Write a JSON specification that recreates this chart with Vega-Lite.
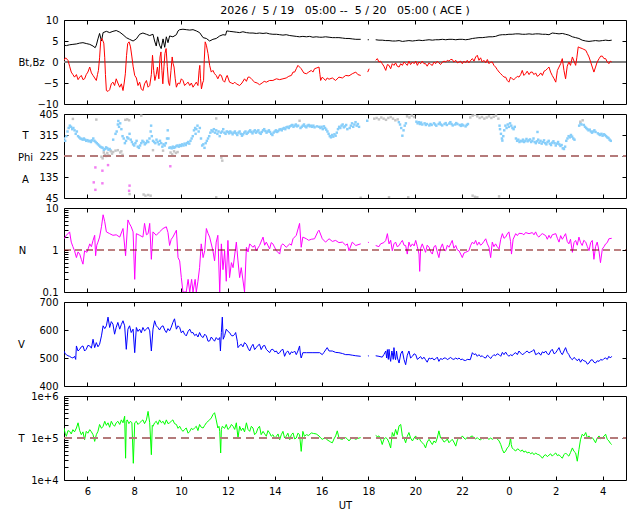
{
  "$schema": "https://vega.github.io/schema/vega-lite/v6.json",
  "padding": {"left": 16, "top": 4, "right": 13, "bottom": 5},
  "background": "white",
  "config": {
    "view": {"stroke": "black", "strokeWidth": 1},
    "font": "DejaVu Sans",
    "axis": {"domain": false, "grid": false, "tickColor": "black", "tickSize": -4, "tickWidth": 1, "labelFont": "DejaVu Sans", "labelFontSize": 10, "labelColor": "black", "labelPadding": 10, "titleFont": "DejaVu Sans", "titleFontSize": 10, "titleFontWeight": "normal", "titleColor": "black"},
    "axisY": {"titleAngle": 0, "titleAlign": "center", "titleBaseline": "middle", "titleY": 42},
    "title": {"font": "DejaVu Sans", "fontSize": 11, "fontWeight": "normal", "color": "black"}
  },
  "datasets": {
    "bt": [
      {"t":5.00,"v":4.0},{"t":5.10,"v":3.9},{"t":5.24,"v":4.1},{"t":5.38,"v":4.2},{"t":5.53,"v":4.3},{"t":5.67,"v":4.5},{"t":5.81,"v":4.6},{"t":5.95,"v":4.4},{"t":6.10,"v":4.2},{"t":6.24,"v":3.8},{"t":6.33,"v":3.4},{"t":6.38,"v":4.0},{"t":6.45,"v":5.5},{"t":6.52,"v":6.8},{"t":6.60,"v":5.0},{"t":6.67,"v":7.0},{"t":6.81,"v":7.3},{"t":6.95,"v":7.0},{"t":7.09,"v":7.3},{"t":7.23,"v":7.5},{"t":7.38,"v":7.1},{"t":7.52,"v":6.5},{"t":7.66,"v":5.8},{"t":7.80,"v":5.4},{"t":7.95,"v":5.0},{"t":8.09,"v":5.5},{"t":8.23,"v":6.6},{"t":8.37,"v":6.9},{"t":8.52,"v":6.6},{"t":8.66,"v":6.3},{"t":8.80,"v":6.6},{"t":8.87,"v":5.0},{"t":8.94,"v":3.8},{"t":9.00,"v":6.0},{"t":9.08,"v":4.0},{"t":9.15,"v":3.2},{"t":9.23,"v":5.5},{"t":9.30,"v":3.5},{"t":9.37,"v":6.0},{"t":9.44,"v":4.6},{"t":9.51,"v":6.2},{"t":9.65,"v":6.0},{"t":9.80,"v":6.5},{"t":9.87,"v":7.4},{"t":9.94,"v":7.7},{"t":10.08,"v":7.8},{"t":10.22,"v":7.7},{"t":10.37,"v":7.6},{"t":10.51,"v":7.7},{"t":10.65,"v":7.4},{"t":10.79,"v":7.0},{"t":10.94,"v":5.8},{"t":11.08,"v":5.6},{"t":11.22,"v":5.0},{"t":11.36,"v":5.4},{"t":11.50,"v":5.6},{"t":11.65,"v":6.2},{"t":11.79,"v":6.5},{"t":11.90,"v":6.4},{"t":11.95,"v":7.4},{"t":12.07,"v":7.3},{"t":12.22,"v":7.2},{"t":12.36,"v":7.1},{"t":12.50,"v":7.0},{"t":12.64,"v":7.2},{"t":12.79,"v":7.0},{"t":12.93,"v":6.9},{"t":13.07,"v":6.9},{"t":13.21,"v":6.8},{"t":13.35,"v":6.9},{"t":13.50,"v":6.8},{"t":13.64,"v":6.9},{"t":13.78,"v":6.7},{"t":13.92,"v":6.6},{"t":14.07,"v":6.6},{"t":14.21,"v":6.5},{"t":14.35,"v":6.4},{"t":14.49,"v":6.5},{"t":14.64,"v":6.3},{"t":14.78,"v":6.2},{"t":14.92,"v":6.1},{"t":15.06,"v":6.0},{"t":15.20,"v":6.1},{"t":15.35,"v":6.0},{"t":15.49,"v":6.1},{"t":15.63,"v":5.9},{"t":15.77,"v":6.0},{"t":15.92,"v":5.9},{"t":16.03,"v":5.9},{"t":16.17,"v":6.0},{"t":16.32,"v":5.9},{"t":16.46,"v":5.8},{"t":16.60,"v":5.8},{"t":16.74,"v":5.8},{"t":16.89,"v":5.7},{"t":17.03,"v":5.6},{"t":17.17,"v":5.6},{"t":17.31,"v":5.5},{"t":17.46,"v":5.4},{"t":17.67,"v":5.4},{"t":17.8,"v":null},{"t":17.97,"v":5.3},{"t":18.02,"v":5.3},{"t":18.15,"v":null},{"t":18.31,"v":5.3},{"t":18.45,"v":5.2},{"t":18.59,"v":5.2},{"t":18.74,"v":5.1},{"t":18.88,"v":5.1},{"t":19.02,"v":5.0},{"t":19.16,"v":5.0},{"t":19.31,"v":5.1},{"t":19.45,"v":4.9},{"t":19.59,"v":5.0},{"t":19.73,"v":5.1},{"t":19.88,"v":5.0},{"t":20.02,"v":5.1},{"t":20.16,"v":5.2},{"t":20.30,"v":5.1},{"t":20.44,"v":5.2},{"t":20.59,"v":5.3},{"t":20.73,"v":5.2},{"t":20.87,"v":5.3},{"t":21.01,"v":5.3},{"t":21.16,"v":5.4},{"t":21.30,"v":5.3},{"t":21.44,"v":5.4},{"t":21.58,"v":5.4},{"t":21.73,"v":5.3},{"t":21.87,"v":5.4},{"t":22.01,"v":5.4},{"t":22.15,"v":5.3},{"t":22.29,"v":5.4},{"t":22.44,"v":5.6},{"t":22.58,"v":5.7},{"t":22.72,"v":5.8},{"t":22.86,"v":5.8},{"t":23.01,"v":5.9},{"t":23.15,"v":6.0},{"t":23.29,"v":6.0},{"t":23.43,"v":6.1},{"t":23.58,"v":6.4},{"t":23.72,"v":6.5},{"t":23.86,"v":6.5},{"t":24.00,"v":6.6},{"t":24.14,"v":6.6},{"t":24.29,"v":6.7},{"t":24.43,"v":6.7},{"t":24.57,"v":6.6},{"t":24.71,"v":6.6},{"t":24.86,"v":6.7},{"t":25.00,"v":6.6},{"t":25.14,"v":6.7},{"t":25.28,"v":6.7},{"t":25.43,"v":6.6},{"t":25.57,"v":6.6},{"t":25.71,"v":6.5},{"t":25.85,"v":6.9},{"t":26.00,"v":6.8},{"t":26.14,"v":6.7},{"t":26.28,"v":6.8},{"t":26.42,"v":6.6},{"t":26.56,"v":6.4},{"t":26.71,"v":6.0},{"t":26.85,"v":5.8},{"t":26.99,"v":5.6},{"t":27.13,"v":5.2},{"t":27.28,"v":5.0},{"t":27.42,"v":4.9},{"t":27.56,"v":5.0},{"t":27.70,"v":5.1},{"t":27.85,"v":5.0},{"t":27.99,"v":5.1},{"t":28.13,"v":5.2},{"t":28.27,"v":5.1},{"t":28.39,"v":5.2}
    ],
    "bz": [
      {"t":5.00,"v":0.4},{"t":5.07,"v":1.0},{"t":5.17,"v":0.4},{"t":5.24,"v":-1.0},{"t":5.31,"v":-2.4},{"t":5.38,"v":-3.0},{"t":5.45,"v":-3.6},{"t":5.53,"v":-3.0},{"t":5.60,"v":-4.2},{"t":5.67,"v":-3.6},{"t":5.74,"v":-3.2},{"t":5.81,"v":-4.2},{"t":5.88,"v":-4.0},{"t":5.95,"v":-3.0},{"t":6.02,"v":-2.4},{"t":6.10,"v":-1.2},{"t":6.17,"v":-2.6},{"t":6.24,"v":-3.2},{"t":6.31,"v":-3.8},{"t":6.38,"v":-4.4},{"t":6.43,"v":-3.0},{"t":6.47,"v":-2.0},{"t":6.52,"v":1.0},{"t":6.57,"v":5.2},{"t":6.62,"v":5.6},{"t":6.70,"v":4.5},{"t":6.74,"v":1.0},{"t":6.77,"v":-3.0},{"t":6.81,"v":-6.8},{"t":6.88,"v":-7.0},{"t":6.95,"v":-6.6},{"t":7.02,"v":-5.2},{"t":7.09,"v":-4.8},{"t":7.16,"v":-5.6},{"t":7.23,"v":-4.0},{"t":7.30,"v":-5.0},{"t":7.38,"v":-6.0},{"t":7.45,"v":-5.2},{"t":7.52,"v":-6.8},{"t":7.57,"v":-5.0},{"t":7.62,"v":-2.8},{"t":7.67,"v":1.5},{"t":7.72,"v":4.4},{"t":7.78,"v":4.8},{"t":7.84,"v":3.6},{"t":7.90,"v":1.2},{"t":7.95,"v":-1.0},{"t":8.02,"v":-3.2},{"t":8.09,"v":-3.8},{"t":8.16,"v":-5.6},{"t":8.23,"v":-4.8},{"t":8.30,"v":-6.4},{"t":8.37,"v":-6.8},{"t":8.44,"v":-5.2},{"t":8.52,"v":-4.4},{"t":8.59,"v":-6.0},{"t":8.66,"v":-5.6},{"t":8.73,"v":-3.0},{"t":8.78,"v":1.6},{"t":8.83,"v":-2.0},{"t":8.88,"v":-4.4},{"t":8.94,"v":-3.0},{"t":8.99,"v":-1.2},{"t":9.05,"v":-4.0},{"t":9.10,"v":1.2},{"t":9.14,"v":2.4},{"t":9.18,"v":-2.0},{"t":9.22,"v":-5.2},{"t":9.27,"v":-1.0},{"t":9.31,"v":2.0},{"t":9.36,"v":3.2},{"t":9.41,"v":-1.0},{"t":9.46,"v":-4.8},{"t":9.51,"v":-5.6},{"t":9.57,"v":-2.0},{"t":9.62,"v":1.2},{"t":9.66,"v":-0.4},{"t":9.70,"v":-1.2},{"t":9.75,"v":-4.0},{"t":9.80,"v":-6.0},{"t":9.87,"v":-5.0},{"t":9.94,"v":-5.2},{"t":10.01,"v":-4.0},{"t":10.08,"v":-4.4},{"t":10.15,"v":-5.6},{"t":10.22,"v":-5.2},{"t":10.30,"v":-4.8},{"t":10.37,"v":-5.6},{"t":10.44,"v":-5.0},{"t":10.51,"v":-6.0},{"t":10.58,"v":-5.4},{"t":10.65,"v":-4.8},{"t":10.72,"v":-5.6},{"t":10.77,"v":-2.0},{"t":10.80,"v":-0.8},{"t":10.83,"v":-4.0},{"t":10.87,"v":-6.4},{"t":10.92,"v":-5.0},{"t":10.96,"v":-4.4},{"t":10.99,"v":0.5},{"t":11.03,"v":4.8},{"t":11.08,"v":4.0},{"t":11.15,"v":2.0},{"t":11.22,"v":-0.8},{"t":11.29,"v":-2.4},{"t":11.36,"v":-2.0},{"t":11.43,"v":-2.8},{"t":11.50,"v":-3.2},{"t":11.57,"v":-4.0},{"t":11.65,"v":-3.0},{"t":11.72,"v":-3.2},{"t":11.79,"v":-4.4},{"t":11.86,"v":-4.8},{"t":11.93,"v":-3.6},{"t":11.97,"v":-3.2},{"t":12.07,"v":-4.8},{"t":12.15,"v":-5.0},{"t":12.22,"v":-5.2},{"t":12.29,"v":-4.8},{"t":12.36,"v":-5.2},{"t":12.43,"v":-5.4},{"t":12.50,"v":-5.6},{"t":12.60,"v":-5.0},{"t":12.71,"v":-4.0},{"t":12.79,"v":-4.6},{"t":12.86,"v":-3.6},{"t":12.93,"v":-3.6},{"t":13.03,"v":-4.2},{"t":13.14,"v":-4.8},{"t":13.25,"v":-5.0},{"t":13.35,"v":-5.4},{"t":13.46,"v":-5.0},{"t":13.55,"v":-4.6},{"t":13.64,"v":-4.8},{"t":13.78,"v":-4.4},{"t":13.92,"v":-4.4},{"t":14.07,"v":-4.0},{"t":14.21,"v":-4.2},{"t":14.35,"v":-4.0},{"t":14.49,"v":-3.8},{"t":14.60,"v":-3.4},{"t":14.71,"v":-3.2},{"t":14.78,"v":-2.4},{"t":14.85,"v":-2.4},{"t":14.92,"v":-1.6},{"t":14.99,"v":-0.8},{"t":15.06,"v":-1.2},{"t":15.13,"v":-1.6},{"t":15.24,"v":-2.6},{"t":15.35,"v":-2.8},{"t":15.45,"v":-2.4},{"t":15.56,"v":-2.0},{"t":15.63,"v":-2.4},{"t":15.70,"v":-1.6},{"t":15.80,"v":-1.4},{"t":15.89,"v":-1.2},{"t":15.93,"v":-3.0},{"t":15.96,"v":-4.4},{"t":16.03,"v":-3.6},{"t":16.10,"v":-4.0},{"t":16.17,"v":-4.4},{"t":16.24,"v":-3.8},{"t":16.32,"v":-4.1},{"t":16.46,"v":-3.8},{"t":16.60,"v":-4.4},{"t":16.74,"v":-3.6},{"t":16.89,"v":-3.8},{"t":17.03,"v":-3.2},{"t":17.17,"v":-3.3},{"t":17.31,"v":-2.8},{"t":17.46,"v":-2.4},{"t":17.55,"v":-3.0},{"t":17.67,"v":-3.2},{"t":17.8,"v":null},{"t":17.97,"v":-2.4},{"t":18.03,"v":-1.6},{"t":18.15,"v":null},{"t":18.31,"v":0.4},{"t":18.38,"v":0.8},{"t":18.45,"v":0.0},{"t":18.52,"v":0.2},{"t":18.59,"v":-0.4},{"t":18.66,"v":-1.0},{"t":18.74,"v":-2.0},{"t":18.81,"v":-0.6},{"t":18.88,"v":-0.8},{"t":18.95,"v":-1.6},{"t":19.02,"v":-0.4},{"t":19.09,"v":-0.8},{"t":19.16,"v":-0.2},{"t":19.23,"v":-1.0},{"t":19.31,"v":-1.2},{"t":19.38,"v":-0.4},{"t":19.45,"v":-0.8},{"t":19.52,"v":0.0},{"t":19.59,"v":-0.4},{"t":19.66,"v":-0.8},{"t":19.73,"v":0.2},{"t":19.80,"v":-0.6},{"t":19.88,"v":0.0},{"t":19.95,"v":-0.4},{"t":20.02,"v":0.2},{"t":20.09,"v":-0.8},{"t":20.16,"v":0.0},{"t":20.23,"v":-0.4},{"t":20.30,"v":0.2},{"t":20.37,"v":-0.4},{"t":20.44,"v":-0.4},{"t":20.51,"v":-1.0},{"t":20.59,"v":-0.2},{"t":20.66,"v":-0.6},{"t":20.73,"v":-0.8},{"t":20.80,"v":0.0},{"t":20.87,"v":-0.4},{"t":20.94,"v":0.2},{"t":21.01,"v":-0.2},{"t":21.08,"v":-0.6},{"t":21.16,"v":0.0},{"t":21.23,"v":0.2},{"t":21.30,"v":0.0},{"t":21.37,"v":0.4},{"t":21.44,"v":0.2},{"t":21.51,"v":0.6},{"t":21.58,"v":0.6},{"t":21.65,"v":0.0},{"t":21.73,"v":0.4},{"t":21.80,"v":-0.2},{"t":21.87,"v":0.0},{"t":21.94,"v":0.2},{"t":22.01,"v":-0.4},{"t":22.08,"v":0.2},{"t":22.15,"v":-0.2},{"t":22.22,"v":0.4},{"t":22.29,"v":-0.2},{"t":22.37,"v":0.4},{"t":22.44,"v":0.8},{"t":22.51,"v":0.2},{"t":22.58,"v":1.2},{"t":22.65,"v":1.6},{"t":22.72,"v":0.4},{"t":22.79,"v":1.0},{"t":22.86,"v":0.0},{"t":22.93,"v":0.4},{"t":23.01,"v":-0.2},{"t":23.08,"v":0.6},{"t":23.15,"v":-0.4},{"t":23.22,"v":0.0},{"t":23.29,"v":0.0},{"t":23.36,"v":-0.8},{"t":23.43,"v":-1.2},{"t":23.50,"v":-1.8},{"t":23.58,"v":-2.4},{"t":23.65,"v":-2.8},{"t":23.72,"v":-3.2},{"t":23.79,"v":-3.6},{"t":23.86,"v":-3.6},{"t":23.93,"v":-4.4},{"t":24.00,"v":-4.8},{"t":24.07,"v":-3.6},{"t":24.14,"v":-4.0},{"t":24.21,"v":-4.2},{"t":24.29,"v":-3.8},{"t":24.36,"v":-3.4},{"t":24.43,"v":-3.6},{"t":24.50,"v":-3.0},{"t":24.57,"v":-2.0},{"t":24.64,"v":-3.2},{"t":24.71,"v":-2.8},{"t":24.78,"v":-2.2},{"t":24.86,"v":-3.0},{"t":24.93,"v":-2.4},{"t":25.00,"v":-2.4},{"t":25.07,"v":-3.0},{"t":25.14,"v":-2.6},{"t":25.21,"v":-3.4},{"t":25.28,"v":-3.2},{"t":25.36,"v":-2.6},{"t":25.43,"v":-3.2},{"t":25.50,"v":-2.2},{"t":25.57,"v":-2.0},{"t":25.64,"v":-1.6},{"t":25.71,"v":-1.2},{"t":25.78,"v":-2.4},{"t":25.85,"v":-3.2},{"t":25.93,"v":-4.0},{"t":26.00,"v":-4.8},{"t":26.07,"v":-2.0},{"t":26.14,"v":-1.2},{"t":26.21,"v":-0.4},{"t":26.28,"v":0.8},{"t":26.35,"v":-2.0},{"t":26.42,"v":-4.0},{"t":26.49,"v":-1.0},{"t":26.56,"v":0.0},{"t":26.63,"v":-0.8},{"t":26.71,"v":1.2},{"t":26.78,"v":0.2},{"t":26.85,"v":-0.8},{"t":26.90,"v":1.0},{"t":26.96,"v":3.6},{"t":27.03,"v":3.4},{"t":27.13,"v":3.2},{"t":27.20,"v":3.0},{"t":27.28,"v":2.8},{"t":27.35,"v":2.0},{"t":27.42,"v":1.2},{"t":27.49,"v":0.0},{"t":27.56,"v":-1.2},{"t":27.63,"v":-2.4},{"t":27.70,"v":-1.2},{"t":27.77,"v":0.0},{"t":27.85,"v":0.8},{"t":27.92,"v":1.4},{"t":27.99,"v":1.4},{"t":28.06,"v":0.8},{"t":28.13,"v":0.8},{"t":28.20,"v":0.0},{"t":28.27,"v":-0.4},{"t":28.33,"v":0.2},{"t":28.39,"v":0.0}
    ],
    "phi": [
      {"t":5.00,"v":300,"c":"b"},{"t":5.05,"v":290,"c":"b"},{"t":5.10,"v":310,"c":"b"},{"t":5.15,"v":330,"c":"b"},{"t":5.20,"v":345,"c":"b"},{"t":5.25,"v":355,"c":"b"},{"t":5.30,"v":350,"c":"b"},{"t":5.35,"v":340,"c":"b"},{"t":5.40,"v":345,"c":"b"},{"t":5.45,"v":335,"c":"b"},{"t":5.50,"v":320,"c":"b"},{"t":5.55,"v":330,"c":"b"},{"t":5.60,"v":310,"c":"b"},{"t":5.65,"v":305,"c":"b"},{"t":5.70,"v":300,"c":"b"},{"t":5.75,"v":298,"c":"b"},{"t":5.80,"v":295,"c":"b"},{"t":5.85,"v":300,"c":"b"},{"t":5.90,"v":295,"c":"b"},{"t":5.95,"v":290,"c":"b"},{"t":6.00,"v":293,"c":"b"},{"t":6.05,"v":288,"c":"b"},{"t":6.10,"v":290,"c":"b"},{"t":6.15,"v":285,"c":"b"},{"t":6.20,"v":292,"c":"b"},{"t":6.25,"v":300,"c":"b"},{"t":6.30,"v":290,"c":"b"},{"t":6.35,"v":285,"c":"b"},{"t":6.40,"v":280,"c":"b"},{"t":6.45,"v":275,"c":"b"},{"t":6.50,"v":270,"c":"b"},{"t":6.55,"v":265,"c":"b"},{"t":6.60,"v":262,"c":"b"},{"t":6.65,"v":260,"c":"b"},{"t":6.70,"v":250,"c":"b"},{"t":6.75,"v":255,"c":"b"},{"t":6.80,"v":262,"c":"b"},{"t":6.85,"v":258,"c":"b"},{"t":6.90,"v":252,"c":"b"},{"t":6.95,"v":255,"c":"b"},{"t":7.00,"v":248,"c":"b"},{"t":7.10,"v":295,"c":"b"},{"t":7.20,"v":320,"c":"b"},{"t":7.25,"v":330,"c":"b"},{"t":7.30,"v":360,"c":"b"},{"t":7.32,"v":375,"c":"b"},{"t":7.35,"v":350,"c":"b"},{"t":7.40,"v":365,"c":"b"},{"t":7.45,"v":340,"c":"b"},{"t":7.50,"v":310,"c":"b"},{"t":7.55,"v":300,"c":"b"},{"t":7.60,"v":280,"c":"b"},{"t":7.65,"v":290,"c":"b"},{"t":7.70,"v":305,"c":"b"},{"t":7.75,"v":300,"c":"b"},{"t":7.80,"v":320,"c":"b"},{"t":7.85,"v":295,"c":"b"},{"t":7.90,"v":285,"c":"b"},{"t":7.95,"v":275,"c":"b"},{"t":8.00,"v":270,"c":"b"},{"t":8.05,"v":280,"c":"b"},{"t":8.10,"v":290,"c":"b"},{"t":8.15,"v":265,"c":"b"},{"t":8.20,"v":260,"c":"b"},{"t":8.25,"v":270,"c":"b"},{"t":8.30,"v":280,"c":"b"},{"t":8.35,"v":290,"c":"b"},{"t":8.40,"v":285,"c":"b"},{"t":8.45,"v":275,"c":"b"},{"t":8.50,"v":280,"c":"b"},{"t":8.55,"v":290,"c":"b"},{"t":8.60,"v":285,"c":"b"},{"t":8.65,"v":300,"c":"b"},{"t":8.70,"v":330,"c":"b"},{"t":8.72,"v":355,"c":"b"},{"t":8.75,"v":310,"c":"b"},{"t":8.80,"v":290,"c":"b"},{"t":8.85,"v":285,"c":"b"},{"t":8.90,"v":280,"c":"b"},{"t":8.95,"v":295,"c":"b"},{"t":9.00,"v":285,"c":"b"},{"t":9.05,"v":275,"c":"b"},{"t":9.10,"v":290,"c":"b"},{"t":9.15,"v":280,"c":"b"},{"t":9.20,"v":265,"c":"b"},{"t":9.25,"v":275,"c":"b"},{"t":9.30,"v":270,"c":"b"},{"t":9.35,"v":280,"c":"b"},{"t":9.40,"v":300,"c":"b"},{"t":9.43,"v":335,"c":"b"},{"t":9.46,"v":300,"c":"b"},{"t":9.50,"v":260,"c":"b"},{"t":9.55,"v":262,"c":"b"},{"t":9.60,"v":258,"c":"b"},{"t":9.65,"v":265,"c":"b"},{"t":9.70,"v":260,"c":"b"},{"t":9.75,"v":263,"c":"b"},{"t":9.80,"v":268,"c":"b"},{"t":9.85,"v":270,"c":"b"},{"t":9.90,"v":265,"c":"b"},{"t":9.95,"v":272,"c":"b"},{"t":10.00,"v":268,"c":"b"},{"t":10.05,"v":275,"c":"b"},{"t":10.10,"v":270,"c":"b"},{"t":10.15,"v":278,"c":"b"},{"t":10.20,"v":272,"c":"b"},{"t":10.25,"v":280,"c":"b"},{"t":10.30,"v":285,"c":"b"},{"t":10.35,"v":278,"c":"b"},{"t":10.40,"v":290,"c":"b"},{"t":10.45,"v":300,"c":"b"},{"t":10.50,"v":310,"c":"b"},{"t":10.55,"v":335,"c":"b"},{"t":10.60,"v":345,"c":"b"},{"t":10.62,"v":320,"c":"b"},{"t":10.65,"v":340,"c":"b"},{"t":10.70,"v":355,"c":"b"},{"t":10.75,"v":330,"c":"b"},{"t":10.80,"v":345,"c":"b"},{"t":10.85,"v":300,"c":"b"},{"t":10.90,"v":270,"c":"b"},{"t":10.95,"v":275,"c":"b"},{"t":11.00,"v":260,"c":"b"},{"t":11.05,"v":280,"c":"b"},{"t":11.10,"v":290,"c":"b"},{"t":11.15,"v":300,"c":"b"},{"t":11.20,"v":310,"c":"b"},{"t":11.25,"v":325,"c":"b"},{"t":11.30,"v":335,"c":"b"},{"t":11.35,"v":330,"c":"b"},{"t":11.40,"v":340,"c":"b"},{"t":11.45,"v":325,"c":"b"},{"t":11.50,"v":335,"c":"b"},{"t":11.55,"v":320,"c":"b"},{"t":11.60,"v":330,"c":"b"},{"t":11.65,"v":310,"c":"b"},{"t":11.70,"v":325,"c":"b"},{"t":11.75,"v":330,"c":"b"},{"t":11.80,"v":340,"c":"b"},{"t":11.85,"v":325,"c":"b"},{"t":11.90,"v":320,"c":"b"},{"t":11.95,"v":330,"c":"b"},{"t":12.00,"v":328,"c":"b"},{"t":12.05,"v":322,"c":"b"},{"t":12.10,"v":330,"c":"b"},{"t":12.15,"v":325,"c":"b"},{"t":12.20,"v":318,"c":"b"},{"t":12.25,"v":325,"c":"b"},{"t":12.30,"v":330,"c":"b"},{"t":12.35,"v":322,"c":"b"},{"t":12.40,"v":315,"c":"b"},{"t":12.45,"v":325,"c":"b"},{"t":12.50,"v":330,"c":"b"},{"t":12.55,"v":320,"c":"b"},{"t":12.60,"v":312,"c":"b"},{"t":12.65,"v":318,"c":"b"},{"t":12.70,"v":325,"c":"b"},{"t":12.75,"v":330,"c":"b"},{"t":12.80,"v":320,"c":"b"},{"t":12.85,"v":325,"c":"b"},{"t":12.90,"v":330,"c":"b"},{"t":12.95,"v":335,"c":"b"},{"t":13.00,"v":328,"c":"b"},{"t":13.05,"v":322,"c":"b"},{"t":13.10,"v":330,"c":"b"},{"t":13.15,"v":335,"c":"b"},{"t":13.20,"v":325,"c":"b"},{"t":13.25,"v":330,"c":"b"},{"t":13.30,"v":335,"c":"b"},{"t":13.35,"v":325,"c":"b"},{"t":13.40,"v":320,"c":"b"},{"t":13.45,"v":328,"c":"b"},{"t":13.50,"v":335,"c":"b"},{"t":13.55,"v":340,"c":"b"},{"t":13.60,"v":332,"c":"b"},{"t":13.65,"v":325,"c":"b"},{"t":13.70,"v":330,"c":"b"},{"t":13.75,"v":335,"c":"b"},{"t":13.80,"v":328,"c":"b"},{"t":13.85,"v":320,"c":"b"},{"t":13.90,"v":315,"c":"b"},{"t":13.95,"v":325,"c":"b"},{"t":14.00,"v":330,"c":"b"},{"t":14.05,"v":335,"c":"b"},{"t":14.10,"v":328,"c":"b"},{"t":14.15,"v":332,"c":"b"},{"t":14.20,"v":338,"c":"b"},{"t":14.25,"v":340,"c":"b"},{"t":14.30,"v":335,"c":"b"},{"t":14.35,"v":342,"c":"b"},{"t":14.40,"v":345,"c":"b"},{"t":14.45,"v":340,"c":"b"},{"t":14.50,"v":348,"c":"b"},{"t":14.55,"v":350,"c":"b"},{"t":14.60,"v":345,"c":"b"},{"t":14.65,"v":352,"c":"b"},{"t":14.70,"v":355,"c":"b"},{"t":14.75,"v":358,"c":"b"},{"t":14.80,"v":350,"c":"b"},{"t":14.85,"v":355,"c":"b"},{"t":14.90,"v":360,"c":"b"},{"t":14.95,"v":352,"c":"b"},{"t":15.00,"v":355,"c":"b"},{"t":15.10,"v":345,"c":"b"},{"t":15.15,"v":350,"c":"b"},{"t":15.20,"v":355,"c":"b"},{"t":15.25,"v":360,"c":"b"},{"t":15.30,"v":352,"c":"b"},{"t":15.35,"v":348,"c":"b"},{"t":15.40,"v":355,"c":"b"},{"t":15.45,"v":358,"c":"b"},{"t":15.50,"v":352,"c":"b"},{"t":15.55,"v":355,"c":"b"},{"t":15.60,"v":350,"c":"b"},{"t":15.65,"v":355,"c":"b"},{"t":15.70,"v":348,"c":"b"},{"t":15.80,"v":352,"c":"b"},{"t":15.90,"v":350,"c":"b"},
      {"t":15.95,"v":345,"c":"b"},{"t":16.00,"v":350,"c":"b"},{"t":16.05,"v":340,"c":"b"},{"t":16.10,"v":352,"c":"b"},{"t":16.15,"v":345,"c":"b"},{"t":16.20,"v":338,"c":"b"},{"t":16.25,"v":330,"c":"b"},{"t":16.30,"v":320,"c":"b"},{"t":16.35,"v":310,"c":"b"},{"t":16.40,"v":305,"c":"b"},{"t":16.45,"v":315,"c":"b"},{"t":16.50,"v":308,"c":"b"},{"t":16.55,"v":318,"c":"b"},{"t":16.60,"v":312,"c":"b"},{"t":16.65,"v":325,"c":"b"},{"t":16.70,"v":340,"c":"b"},{"t":16.75,"v":350,"c":"b"},{"t":16.80,"v":345,"c":"b"},{"t":16.85,"v":355,"c":"b"},{"t":16.90,"v":360,"c":"b"},{"t":16.95,"v":348,"c":"b"},{"t":17.00,"v":352,"c":"b"},{"t":17.05,"v":358,"c":"b"},{"t":17.10,"v":340,"c":"b"},{"t":17.20,"v":345,"c":"b"},{"t":17.25,"v":355,"c":"b"},{"t":17.30,"v":365,"c":"b"},{"t":17.35,"v":350,"c":"b"},{"t":17.40,"v":360,"c":"b"},{"t":17.45,"v":370,"c":"b"},{"t":17.50,"v":355,"c":"b"},{"t":17.55,"v":362,"c":"b"},{"t":17.60,"v":350,"c":"b"},{"t":17.95,"v":376,"c":"b"},{"t":19.30,"v":370,"c":"b"},{"t":19.35,"v":360,"c":"b"},{"t":19.40,"v":345,"c":"b"},{"t":19.45,"v":312,"c":"b"},{"t":19.50,"v":335,"c":"b"},{"t":19.55,"v":355,"c":"b"},{"t":19.60,"v":365,"c":"b"},{"t":20.05,"v":372,"c":"b"},{"t":20.10,"v":365,"c":"b"},{"t":20.15,"v":370,"c":"b"},{"t":20.20,"v":362,"c":"b"},{"t":20.25,"v":368,"c":"b"},{"t":20.30,"v":360,"c":"b"},{"t":20.40,"v":365,"c":"b"},{"t":20.45,"v":358,"c":"b"},{"t":20.50,"v":362,"c":"b"},{"t":20.60,"v":356,"c":"b"},{"t":20.65,"v":362,"c":"b"},{"t":20.70,"v":358,"c":"b"},{"t":20.80,"v":365,"c":"b"},{"t":20.85,"v":360,"c":"b"},{"t":20.90,"v":355,"c":"b"},{"t":21.00,"v":362,"c":"b"},{"t":21.05,"v":368,"c":"b"},{"t":21.10,"v":360,"c":"b"},{"t":21.15,"v":356,"c":"b"},{"t":21.25,"v":362,"c":"b"},{"t":21.30,"v":366,"c":"b"},{"t":21.35,"v":358,"c":"b"},{"t":21.45,"v":364,"c":"b"},{"t":21.50,"v":370,"c":"b"},{"t":21.55,"v":362,"c":"b"},{"t":21.60,"v":356,"c":"b"},{"t":21.70,"v":360,"c":"b"},{"t":21.75,"v":366,"c":"b"},{"t":21.80,"v":362,"c":"b"},{"t":21.90,"v":358,"c":"b"},{"t":21.95,"v":354,"c":"b"},{"t":22.00,"v":360,"c":"b"},{"t":22.05,"v":356,"c":"b"},{"t":22.15,"v":352,"c":"b"},{"t":22.20,"v":358,"c":"b"},{"t":22.25,"v":362,"c":"b"},{"t":23.60,"v":355,"c":"b"},{"t":23.62,"v":340,"c":"b"},{"t":23.66,"v":320,"c":"b"},{"t":23.70,"v":300,"c":"b"},{"t":23.72,"v":291,"c":"b"},{"t":23.76,"v":310,"c":"b"},{"t":23.80,"v":335,"c":"b"},{"t":23.85,"v":355,"c":"b"},{"t":23.90,"v":345,"c":"b"},{"t":23.95,"v":360,"c":"b"},{"t":24.00,"v":350,"c":"b"},{"t":24.05,"v":365,"c":"b"},{"t":24.10,"v":355,"c":"b"},{"t":24.15,"v":345,"c":"b"},{"t":24.20,"v":340,"c":"b"},{"t":24.25,"v":350,"c":"b"},{"t":24.30,"v":300,"c":"b"},{"t":24.35,"v":290,"c":"b"},{"t":24.40,"v":295,"c":"b"},{"t":24.45,"v":285,"c":"b"},{"t":24.50,"v":290,"c":"b"},{"t":24.55,"v":288,"c":"b"},{"t":24.60,"v":295,"c":"b"},{"t":24.65,"v":285,"c":"b"},{"t":24.70,"v":290,"c":"b"},{"t":24.75,"v":298,"c":"b"},{"t":24.80,"v":288,"c":"b"},{"t":24.85,"v":292,"c":"b"},{"t":24.90,"v":296,"c":"b"},{"t":24.95,"v":285,"c":"b"},{"t":25.00,"v":290,"c":"b"},{"t":25.05,"v":300,"c":"b"},{"t":25.10,"v":285,"c":"b"},{"t":25.15,"v":280,"c":"b"},{"t":25.20,"v":288,"c":"b"},{"t":25.22,"v":328,"c":"b"},{"t":25.25,"v":295,"c":"b"},{"t":25.30,"v":282,"c":"b"},{"t":25.35,"v":290,"c":"b"},{"t":25.40,"v":278,"c":"b"},{"t":25.45,"v":285,"c":"b"},{"t":25.50,"v":292,"c":"b"},{"t":25.55,"v":280,"c":"b"},{"t":25.60,"v":275,"c":"b"},{"t":25.65,"v":285,"c":"b"},{"t":25.70,"v":290,"c":"b"},{"t":25.75,"v":278,"c":"b"},{"t":25.80,"v":272,"c":"b"},{"t":25.85,"v":282,"c":"b"},{"t":25.90,"v":288,"c":"b"},{"t":25.95,"v":280,"c":"b"},{"t":26.00,"v":270,"c":"b"},{"t":26.05,"v":278,"c":"b"},{"t":26.10,"v":285,"c":"b"},{"t":26.15,"v":275,"c":"b"},{"t":26.20,"v":268,"c":"b"},{"t":26.25,"v":272,"c":"b"},{"t":26.30,"v":258,"c":"b"},{"t":26.35,"v":255,"c":"b"},{"t":26.40,"v":265,"c":"b"},{"t":26.45,"v":290,"c":"b"},{"t":26.50,"v":300,"c":"b"},{"t":26.55,"v":310,"c":"b"},{"t":26.60,"v":305,"c":"b"},{"t":26.65,"v":315,"c":"b"},{"t":26.70,"v":308,"c":"b"},{"t":26.75,"v":300,"c":"b"},{"t":26.80,"v":295,"c":"b"},{"t":27.00,"v":355,"c":"b"},{"t":27.05,"v":365,"c":"b"},{"t":27.10,"v":360,"c":"b"},{"t":27.20,"v":358,"c":"b"},{"t":27.25,"v":350,"c":"b"},{"t":27.30,"v":345,"c":"b"},{"t":27.35,"v":340,"c":"b"},{"t":27.40,"v":335,"c":"b"},{"t":27.45,"v":338,"c":"b"},{"t":27.50,"v":330,"c":"b"},{"t":27.55,"v":325,"c":"b"},{"t":27.60,"v":330,"c":"b"},{"t":27.65,"v":335,"c":"b"},{"t":27.70,"v":328,"c":"b"},{"t":27.80,"v":322,"c":"b"},{"t":27.85,"v":318,"c":"b"},{"t":27.90,"v":315,"c":"b"},{"t":27.95,"v":320,"c":"b"},{"t":28.00,"v":312,"c":"b"},{"t":28.05,"v":318,"c":"b"},{"t":28.10,"v":315,"c":"b"},{"t":28.15,"v":310,"c":"b"},{"t":28.20,"v":305,"c":"b"},{"t":28.25,"v":302,"c":"b"},{"t":28.30,"v":295,"c":"b"},{"t":28.35,"v":290,"c":"b"},
      {"t":5.38,"v":384,"c":"g"},{"t":6.38,"v":381,"c":"g"},{"t":6.60,"v":222,"c":"g"},{"t":6.65,"v":215,"c":"g"},{"t":6.70,"v":240,"c":"g"},{"t":6.75,"v":230,"c":"g"},{"t":6.80,"v":225,"c":"g"},{"t":6.85,"v":238,"c":"g"},{"t":6.90,"v":228,"c":"g"},{"t":7.00,"v":245,"c":"g"},{"t":7.05,"v":235,"c":"g"},{"t":7.10,"v":242,"c":"g"},{"t":7.20,"v":248,"c":"g"},{"t":7.30,"v":250,"c":"g"},{"t":7.40,"v":240,"c":"g"},{"t":7.45,"v":245,"c":"g"},{"t":7.50,"v":230,"c":"g"},{"t":7.62,"v":380,"c":"g"},{"t":7.70,"v":382,"c":"g"},{"t":7.78,"v":378,"c":"g"},{"t":7.80,"v":62,"c":"g"},{"t":8.30,"v":398,"c":"g"},{"t":8.40,"v":60,"c":"g"},{"t":8.48,"v":55,"c":"g"},{"t":8.60,"v":58,"c":"g"},{"t":8.70,"v":55,"c":"g"},{"t":8.80,"v":250,"c":"g"},{"t":9.23,"v":248,"c":"g"},{"t":9.55,"v":240,"c":"g"},{"t":9.62,"v":232,"c":"g"},{"t":9.70,"v":245,"c":"g"},{"t":9.78,"v":238,"c":"g"},{"t":9.85,"v":242,"c":"g"},{"t":11.50,"v":386,"c":"g"},{"t":11.50,"v":48,"c":"g"},{"t":11.72,"v":218,"c":"g"},{"t":11.76,"v":205,"c":"g"},{"t":15.06,"v":376,"c":"g"},{"t":17.67,"v":46,"c":"g"},{"t":18.25,"v":385,"c":"g"},{"t":18.35,"v":388,"c":"g"},{"t":18.45,"v":382,"c":"g"},{"t":18.55,"v":390,"c":"g"},{"t":18.65,"v":385,"c":"g"},{"t":18.75,"v":380,"c":"g"},{"t":18.85,"v":388,"c":"g"},{"t":18.88,"v":48,"c":"g"},{"t":18.95,"v":392,"c":"g"},{"t":19.05,"v":385,"c":"g"},{"t":19.15,"v":378,"c":"g"},{"t":19.25,"v":382,"c":"g"},{"t":19.65,"v":395,"c":"g"},{"t":19.70,"v":48,"c":"g"},{"t":19.75,"v":390,"c":"g"},{"t":19.85,"v":398,"c":"g"},{"t":19.95,"v":392,"c":"g"},{"t":22.35,"v":390,"c":"g"},{"t":22.45,"v":398,"c":"g"},{"t":22.45,"v":55,"c":"g"},{"t":22.55,"v":402,"c":"g"},{"t":22.55,"v":50,"c":"g"},{"t":22.65,"v":395,"c":"g"},{"t":22.65,"v":48,"c":"g"},{"t":22.75,"v":388,"c":"g"},{"t":22.85,"v":392,"c":"g"},{"t":22.95,"v":385,"c":"g"},{"t":23.05,"v":390,"c":"g"},{"t":23.15,"v":395,"c":"g"},{"t":23.25,"v":388,"c":"g"},{"t":23.35,"v":393,"c":"g"},{"t":23.45,"v":398,"c":"g"},{"t":23.55,"v":385,"c":"g"},{"t":23.58,"v":52,"c":"g"},{"t":27.05,"v":372,"c":"g"},{"t":27.15,"v":378,"c":"g"},
      {"t":6.34,"v":176,"c":"m"},{"t":6.27,"v":112,"c":"m"},{"t":6.34,"v":80,"c":"m"},{"t":6.64,"v":162,"c":"m"},{"t":6.64,"v":108,"c":"m"},{"t":6.88,"v":186,"c":"m"},{"t":7.80,"v":98,"c":"m"},{"t":7.78,"v":76,"c":"m"},{"t":9.54,"v":181,"c":"m"}
    ],
    "n": [
      {"t":5.00,"v":1.85},{"t":5.10,"v":2.24},{"t":5.24,"v":2.7},{"t":5.31,"v":1.54},{"t":5.38,"v":1.2},{"t":5.45,"v":0.96},{"t":5.53,"v":0.66},{"t":5.60,"v":0.9},{"t":5.67,"v":0.80},{"t":5.74,"v":0.6},{"t":5.81,"v":0.46},{"t":5.88,"v":0.96},{"t":5.98,"v":0.88},{"t":6.04,"v":1.1},{"t":6.10,"v":1.40},{"t":6.17,"v":1.2},{"t":6.24,"v":1.69},{"t":6.31,"v":2.24},{"t":6.35,"v":0.73},{"t":6.40,"v":1.3},{"t":6.45,"v":1.54},{"t":6.52,"v":2.03},{"t":6.60,"v":3.57},{"t":6.67,"v":6.9},{"t":6.74,"v":4.7},{"t":6.81,"v":2.7},{"t":6.95,"v":2.45},{"t":7.09,"v":2.24},{"t":7.23,"v":2.3},{"t":7.38,"v":2.03},{"t":7.52,"v":3.25},{"t":7.63,"v":0.73},{"t":7.73,"v":5.2},{"t":7.80,"v":4.2},{"t":7.87,"v":3.57},{"t":7.95,"v":2.7},{"t":8.02,"v":0.20},{"t":8.09,"v":2.45},{"t":8.23,"v":2.24},{"t":8.37,"v":2.03},{"t":8.44,"v":4.3},{"t":8.52,"v":2.3},{"t":8.59,"v":2.45},{"t":8.66,"v":4.3},{"t":8.73,"v":0.60},{"t":8.80,"v":2.7},{"t":8.94,"v":2.24},{"t":9.08,"v":2.7},{"t":9.23,"v":3.25},{"t":9.37,"v":3.57},{"t":9.44,"v":2.6},{"t":9.51,"v":1.28},{"t":9.58,"v":1.8},{"t":9.65,"v":2.03},{"t":9.80,"v":2.96},{"t":9.87,"v":0.66},{"t":9.94,"v":0.55},{"t":10.01,"v":0.22},{"t":10.08,"v":0.10},{"t":10.22,"v":0.10},{"t":10.30,"v":0.20},{"t":10.37,"v":0.10},{"t":10.45,"v":0.20},{"t":10.51,"v":0.10},{"t":10.60,"v":0.20},{"t":10.65,"v":0.10},{"t":10.72,"v":0.18},{"t":10.79,"v":0.38},{"t":10.86,"v":1.40},{"t":10.94,"v":0.66},{"t":11.01,"v":0.96},{"t":11.08,"v":3.25},{"t":11.15,"v":2.5},{"t":11.22,"v":2.03},{"t":11.36,"v":0.96},{"t":11.43,"v":0.55},{"t":11.50,"v":1.54},{"t":11.57,"v":2.24},{"t":11.65,"v":0.10},{"t":11.72,"v":1.40},{"t":11.79,"v":0.34},{"t":11.86,"v":0.96},{"t":11.93,"v":0.18},{"t":12.00,"v":1.69},{"t":12.07,"v":0.22},{"t":12.15,"v":0.5},{"t":12.22,"v":0.38},{"t":12.36,"v":1.54},{"t":12.43,"v":0.55},{"t":12.50,"v":0.22},{"t":12.57,"v":0.38},{"t":12.71,"v":0.10},{"t":12.79,"v":1.16},{"t":12.86,"v":0.9},{"t":12.93,"v":1.40},{"t":13.07,"v":1.16},{"t":13.14,"v":1.3},{"t":13.21,"v":0.96},{"t":13.35,"v":1.28},{"t":13.50,"v":2.03},{"t":13.57,"v":1.3},{"t":13.64,"v":1.54},{"t":13.78,"v":1.06},{"t":13.85,"v":1.5},{"t":13.92,"v":1.40},{"t":14.07,"v":0.96},{"t":14.21,"v":0.80},{"t":14.28,"v":1.3},{"t":14.35,"v":1.40},{"t":14.49,"v":1.16},{"t":14.64,"v":1.40},{"t":14.71,"v":1.3},{"t":14.78,"v":1.85},{"t":14.92,"v":2.24},{"t":15.06,"v":4.3},{"t":15.13,"v":1.16},{"t":15.20,"v":2.03},{"t":15.35,"v":1.85},{"t":15.45,"v":1.7},{"t":15.56,"v":1.80},{"t":15.70,"v":1.85},{"t":15.85,"v":2.8},{"t":15.89,"v":2.96},{"t":16.03,"v":1.85},{"t":16.17,"v":1.54},{"t":16.32,"v":1.85},{"t":16.46,"v":1.6},{"t":16.60,"v":1.69},{"t":16.74,"v":1.5},{"t":16.89,"v":1.54},{"t":17.03,"v":1.3},{"t":17.10,"v":1.40},{"t":17.17,"v":0.96},{"t":17.31,"v":1.54},{"t":17.46,"v":1.28},{"t":17.67,"v":1.40},{"t":17.8,"v":null},{"t":17.98,"v":1.54},{"t":18.02,"v":1.5},{"t":18.15,"v":null},{"t":18.31,"v":1.28},{"t":18.45,"v":1.2},{"t":18.52,"v":1.40},{"t":18.66,"v":1.5},{"t":18.74,"v":1.69},{"t":18.81,"v":2.45},{"t":18.88,"v":1.40},{"t":18.95,"v":1.7},{"t":19.02,"v":0.96},{"t":19.09,"v":1.4},{"t":19.16,"v":1.54},{"t":19.23,"v":1.2},{"t":19.31,"v":1.28},{"t":19.38,"v":1.5},{"t":19.45,"v":1.69},{"t":19.52,"v":1.3},{"t":19.59,"v":1.28},{"t":19.66,"v":0.80},{"t":19.73,"v":1.54},{"t":19.80,"v":1.2},{"t":19.88,"v":1.40},{"t":19.95,"v":1.25},{"t":20.02,"v":1.69},{"t":20.09,"v":1.2},{"t":20.16,"v":0.80},{"t":20.19,"v":0.31},{"t":20.23,"v":1.1},{"t":20.30,"v":1.40},{"t":20.37,"v":1.1},{"t":20.44,"v":0.88},{"t":20.51,"v":1.3},{"t":20.59,"v":1.16},{"t":20.66,"v":0.9},{"t":20.73,"v":0.80},{"t":20.80,"v":1.2},{"t":20.87,"v":1.28},{"t":20.94,"v":0.9},{"t":21.01,"v":0.66},{"t":21.08,"v":1.1},{"t":21.16,"v":1.40},{"t":21.23,"v":1.0},{"t":21.30,"v":0.96},{"t":21.37,"v":1.3},{"t":21.44,"v":1.16},{"t":21.51,"v":1.4},{"t":21.58,"v":1.69},{"t":21.65,"v":1.1},{"t":21.73,"v":1.28},{"t":21.80,"v":1.0},{"t":21.87,"v":0.96},{"t":21.94,"v":0.8},{"t":22.01,"v":0.66},{"t":22.08,"v":0.85},{"t":22.15,"v":0.88},{"t":22.29,"v":0.96},{"t":22.37,"v":1.3},{"t":22.44,"v":1.54},{"t":22.51,"v":1.4},{"t":22.58,"v":1.69},{"t":22.65,"v":1.3},{"t":22.72,"v":1.54},{"t":22.79,"v":1.3},{"t":22.86,"v":1.40},{"t":22.93,"v":1.6},{"t":23.01,"v":1.85},{"t":23.08,"v":1.4},{"t":23.15,"v":1.16},{"t":23.22,"v":0.66},{"t":23.29,"v":1.54},{"t":23.36,"v":1.2},{"t":23.43,"v":1.40},{"t":23.50,"v":1.2},{"t":23.58,"v":1.06},{"t":23.65,"v":1.8},{"t":23.72,"v":2.45},{"t":23.79,"v":1.9},{"t":23.86,"v":2.03},{"t":23.93,"v":2.4},{"t":24.00,"v":2.7},{"t":24.07,"v":1.6},{"t":24.11,"v":0.80},{"t":24.18,"v":1.8},{"t":24.29,"v":2.45},{"t":24.36,"v":2.2},{"t":24.43,"v":2.5},{"t":24.57,"v":2.45},{"t":24.64,"v":2.3},{"t":24.71,"v":2.6},{"t":24.86,"v":2.45},{"t":25.00,"v":2.6},{"t":25.07,"v":2.3},{"t":25.14,"v":2.7},{"t":25.21,"v":2.2},{"t":25.28,"v":2.03},{"t":25.36,"v":2.3},{"t":25.43,"v":2.45},{"t":25.57,"v":2.2},{"t":25.64,"v":1.8},{"t":25.71,"v":2.24},{"t":25.78,"v":1.9},{"t":25.85,"v":2.3},{"t":26.00,"v":2.45},{"t":26.07,"v":1.9},{"t":26.14,"v":1.54},{"t":26.21,"v":2.2},{"t":26.28,"v":1.8},{"t":26.35,"v":2.1},{"t":26.42,"v":2.45},{"t":26.49,"v":1.6},{"t":26.56,"v":1.40},{"t":26.63,"v":1.8},{"t":26.71,"v":0.88},{"t":26.78,"v":1.5},{"t":26.85,"v":1.69},{"t":26.92,"v":1.3},{"t":26.99,"v":2.03},{"t":27.06,"v":1.5},{"t":27.13,"v":1.28},{"t":27.20,"v":1.7},{"t":27.28,"v":1.54},{"t":27.35,"v":1.2},{"t":27.42,"v":0.96},{"t":27.49,"v":1.5},{"t":27.56,"v":1.69},{"t":27.63,"v":0.60},{"t":27.70,"v":1.2},{"t":27.77,"v":1.54},{"t":27.84,"v":1.0},{"t":27.91,"v":0.50},{"t":27.99,"v":1.06},{"t":28.06,"v":1.2},{"t":28.13,"v":1.40},{"t":28.20,"v":1.5},{"t":28.27,"v":1.85},{"t":28.39,"v":1.9}
    ],
    "vel": [
      {"t":5.00,"v":525},{"t":5.05,"v":515},{"t":5.10,"v":512},{"t":5.17,"v":508},{"t":5.24,"v":506},{"t":5.31,"v":502},{"t":5.38,"v":500},{"t":5.45,"v":506},{"t":5.50,"v":495},{"t":5.53,"v":543},{"t":5.60,"v":525},{"t":5.67,"v":531},{"t":5.74,"v":540},{"t":5.81,"v":543},{"t":5.88,"v":525},{"t":5.95,"v":531},{"t":6.02,"v":545},{"t":6.10,"v":543},{"t":6.17,"v":535},{"t":6.24,"v":567},{"t":6.31,"v":537},{"t":6.38,"v":555},{"t":6.45,"v":540},{"t":6.52,"v":549},{"t":6.60,"v":579},{"t":6.67,"v":615},{"t":6.74,"v":605},{"t":6.81,"v":615},{"t":6.88,"v":646},{"t":6.95,"v":609},{"t":7.02,"v":630},{"t":7.09,"v":621},{"t":7.16,"v":585},{"t":7.23,"v":610},{"t":7.30,"v":627},{"t":7.38,"v":603},{"t":7.45,"v":620},{"t":7.52,"v":633},{"t":7.59,"v":615},{"t":7.66,"v":531},{"t":7.73,"v":603},{"t":7.80,"v":615},{"t":7.87,"v":591},{"t":7.95,"v":603},{"t":8.02,"v":519},{"t":8.09,"v":609},{"t":8.16,"v":595},{"t":8.23,"v":603},{"t":8.30,"v":590},{"t":8.37,"v":609},{"t":8.44,"v":597},{"t":8.52,"v":603},{"t":8.59,"v":610},{"t":8.66,"v":597},{"t":8.73,"v":525},{"t":8.80,"v":603},{"t":8.87,"v":633},{"t":8.94,"v":615},{"t":9.01,"v":609},{"t":9.08,"v":600},{"t":9.16,"v":612},{"t":9.23,"v":615},{"t":9.30,"v":600},{"t":9.37,"v":591},{"t":9.44,"v":605},{"t":9.51,"v":597},{"t":9.58,"v":610},{"t":9.65,"v":627},{"t":9.72,"v":640},{"t":9.80,"v":603},{"t":9.87,"v":615},{"t":9.94,"v":609},{"t":10.01,"v":590},{"t":10.08,"v":597},{"t":10.15,"v":585},{"t":10.22,"v":579},{"t":10.30,"v":595},{"t":10.37,"v":603},{"t":10.44,"v":590},{"t":10.51,"v":591},{"t":10.58,"v":580},{"t":10.65,"v":585},{"t":10.72,"v":575},{"t":10.79,"v":591},{"t":10.86,"v":578},{"t":10.94,"v":573},{"t":11.01,"v":585},{"t":11.08,"v":579},{"t":11.15,"v":560},{"t":11.22,"v":561},{"t":11.29,"v":575},{"t":11.36,"v":567},{"t":11.43,"v":560},{"t":11.50,"v":573},{"t":11.58,"v":565},{"t":11.65,"v":573},{"t":11.68,"v":525},{"t":11.72,"v":591},{"t":11.76,"v":646},{"t":11.80,"v":567},{"t":11.86,"v":580},{"t":11.93,"v":603},{"t":12.00,"v":595},{"t":12.07,"v":591},{"t":12.15,"v":580},{"t":12.22,"v":579},{"t":12.29,"v":585},{"t":12.33,"v":591},{"t":12.40,"v":560},{"t":12.43,"v":537},{"t":12.50,"v":545},{"t":12.57,"v":549},{"t":12.64,"v":540},{"t":12.71,"v":555},{"t":12.79,"v":549},{"t":12.86,"v":535},{"t":12.93,"v":525},{"t":13.00,"v":540},{"t":13.07,"v":549},{"t":13.14,"v":530},{"t":13.21,"v":537},{"t":13.28,"v":545},{"t":13.35,"v":549},{"t":13.42,"v":530},{"t":13.50,"v":543},{"t":13.57,"v":545},{"t":13.64,"v":531},{"t":13.71,"v":525},{"t":13.78,"v":519},{"t":13.85,"v":530},{"t":13.92,"v":531},{"t":14.00,"v":522},{"t":14.07,"v":525},{"t":14.14,"v":515},{"t":14.21,"v":519},{"t":14.28,"v":528},{"t":14.35,"v":531},{"t":14.42,"v":506},{"t":14.49,"v":520},{"t":14.56,"v":525},{"t":14.64,"v":512},{"t":14.71,"v":522},{"t":14.78,"v":519},{"t":14.85,"v":525},{"t":14.92,"v":512},{"t":14.99,"v":525},{"t":15.06,"v":543},{"t":15.10,"v":510},{"t":15.13,"v":500},{"t":15.20,"v":519},{"t":15.35,"v":519},{"t":15.63,"v":519},{"t":15.92,"v":519},{"t":16.03,"v":512},{"t":16.10,"v":520},{"t":16.24,"v":537},{"t":16.32,"v":525},{"t":16.46,"v":525},{"t":16.60,"v":520},{"t":16.74,"v":519},{"t":16.89,"v":516},{"t":17.03,"v":512},{"t":17.17,"v":512},{"t":17.31,"v":510},{"t":17.46,"v":508},{"t":17.67,"v":506},{"t":17.8,"v":null},{"t":17.98,"v":508},{"t":18.02,"v":507},{"t":18.15,"v":null},{"t":18.31,"v":508},{"t":18.45,"v":506},{"t":18.59,"v":503},{"t":18.66,"v":512},{"t":18.74,"v":525},{"t":18.78,"v":500},{"t":18.81,"v":530},{"t":18.85,"v":495},{"t":18.88,"v":531},{"t":18.92,"v":500},{"t":18.95,"v":488},{"t":19.00,"v":525},{"t":19.02,"v":519},{"t":19.06,"v":495},{"t":19.09,"v":537},{"t":19.13,"v":505},{"t":19.16,"v":494},{"t":19.20,"v":525},{"t":19.24,"v":500},{"t":19.31,"v":482},{"t":19.38,"v":515},{"t":19.45,"v":525},{"t":19.52,"v":495},{"t":19.59,"v":476},{"t":19.66,"v":510},{"t":19.73,"v":525},{"t":19.80,"v":500},{"t":19.88,"v":506},{"t":19.95,"v":515},{"t":20.02,"v":512},{"t":20.09,"v":495},{"t":20.16,"v":500},{"t":20.23,"v":505},{"t":20.30,"v":496},{"t":20.37,"v":503},{"t":20.44,"v":494},{"t":20.51,"v":485},{"t":20.59,"v":500},{"t":20.66,"v":497},{"t":20.73,"v":500},{"t":20.80,"v":493},{"t":20.87,"v":497},{"t":20.94,"v":503},{"t":21.01,"v":488},{"t":21.08,"v":498},{"t":21.16,"v":495},{"t":21.23,"v":500},{"t":21.30,"v":500},{"t":21.37,"v":494},{"t":21.44,"v":498},{"t":21.51,"v":502},{"t":21.58,"v":497},{"t":21.65,"v":495},{"t":21.73,"v":500},{"t":21.80,"v":496},{"t":21.87,"v":500},{"t":21.94,"v":494},{"t":22.01,"v":496},{"t":22.08,"v":492},{"t":22.15,"v":491},{"t":22.22,"v":495},{"t":22.35,"v":494},{"t":22.44,"v":519},{"t":22.51,"v":512},{"t":22.58,"v":515},{"t":22.65,"v":506},{"t":22.72,"v":512},{"t":22.79,"v":505},{"t":22.86,"v":508},{"t":22.93,"v":502},{"t":23.01,"v":500},{"t":23.08,"v":510},{"t":23.15,"v":505},{"t":23.22,"v":498},{"t":23.29,"v":506},{"t":23.36,"v":512},{"t":23.43,"v":508},{"t":23.50,"v":515},{"t":23.58,"v":512},{"t":23.65,"v":506},{"t":23.72,"v":520},{"t":23.79,"v":512},{"t":23.86,"v":521},{"t":23.93,"v":512},{"t":24.00,"v":506},{"t":24.07,"v":512},{"t":24.14,"v":508},{"t":24.21,"v":515},{"t":24.29,"v":519},{"t":24.36,"v":512},{"t":24.43,"v":525},{"t":24.50,"v":518},{"t":24.57,"v":512},{"t":24.64,"v":515},{"t":24.71,"v":521},{"t":24.78,"v":525},{"t":24.86,"v":518},{"t":24.93,"v":522},{"t":25.00,"v":525},{"t":25.07,"v":530},{"t":25.14,"v":512},{"t":25.21,"v":515},{"t":25.28,"v":519},{"t":25.36,"v":510},{"t":25.43,"v":522},{"t":25.50,"v":518},{"t":25.57,"v":525},{"t":25.64,"v":515},{"t":25.71,"v":512},{"t":25.78,"v":525},{"t":25.85,"v":531},{"t":25.93,"v":515},{"t":26.00,"v":519},{"t":26.07,"v":528},{"t":26.14,"v":537},{"t":26.21,"v":520},{"t":26.28,"v":512},{"t":26.35,"v":525},{"t":26.42,"v":537},{"t":26.49,"v":520},{"t":26.56,"v":512},{"t":26.63,"v":500},{"t":26.71,"v":494},{"t":26.78,"v":502},{"t":26.85,"v":497},{"t":26.92,"v":490},{"t":26.99,"v":497},{"t":27.06,"v":485},{"t":27.13,"v":495},{"t":27.20,"v":490},{"t":27.28,"v":488},{"t":27.35,"v":478},{"t":27.42,"v":482},{"t":27.49,"v":492},{"t":27.56,"v":494},{"t":27.63,"v":485},{"t":27.70,"v":482},{"t":27.77,"v":490},{"t":27.85,"v":488},{"t":27.92,"v":495},{"t":27.99,"v":492},{"t":28.06,"v":498},{"t":28.13,"v":500},{"t":28.20,"v":495},{"t":28.27,"v":506},{"t":28.33,"v":500},{"t":28.39,"v":506}
    ],
    "tp": [
      {"t":5.00,"v":173000},{"t":5.05,"v":130000},{"t":5.10,"v":110000},{"t":5.17,"v":150000},{"t":5.24,"v":144000},{"t":5.31,"v":125000},{"t":5.38,"v":158000},{"t":5.45,"v":140000},{"t":5.53,"v":173000},{"t":5.60,"v":230000},{"t":5.67,"v":150000},{"t":5.74,"v":120000},{"t":5.81,"v":140000},{"t":5.88,"v":91000},{"t":5.95,"v":144000},{"t":6.02,"v":130000},{"t":6.10,"v":158000},{"t":6.17,"v":140000},{"t":6.24,"v":120000},{"t":6.31,"v":83000},{"t":6.38,"v":120000},{"t":6.45,"v":144000},{"t":6.52,"v":210000},{"t":6.60,"v":170000},{"t":6.67,"v":190000},{"t":6.74,"v":250000},{"t":6.81,"v":200000},{"t":6.88,"v":230000},{"t":6.95,"v":180000},{"t":7.02,"v":250000},{"t":7.09,"v":210000},{"t":7.16,"v":190000},{"t":7.23,"v":230000},{"t":7.30,"v":250000},{"t":7.38,"v":210000},{"t":7.45,"v":270000},{"t":7.52,"v":230000},{"t":7.59,"v":330000},{"t":7.63,"v":33000},{"t":7.66,"v":250000},{"t":7.70,"v":270000},{"t":7.77,"v":220000},{"t":7.84,"v":250000},{"t":7.90,"v":230000},{"t":7.96,"v":25000},{"t":8.02,"v":230000},{"t":8.09,"v":250000},{"t":8.16,"v":210000},{"t":8.23,"v":230000},{"t":8.30,"v":250000},{"t":8.37,"v":270000},{"t":8.44,"v":220000},{"t":8.52,"v":270000},{"t":8.59,"v":430000},{"t":8.66,"v":230000},{"t":8.73,"v":40000},{"t":8.77,"v":200000},{"t":8.80,"v":190000},{"t":8.87,"v":230000},{"t":8.94,"v":250000},{"t":9.01,"v":210000},{"t":9.08,"v":270000},{"t":9.16,"v":230000},{"t":9.23,"v":250000},{"t":9.30,"v":210000},{"t":9.37,"v":270000},{"t":9.44,"v":220000},{"t":9.51,"v":230000},{"t":9.58,"v":250000},{"t":9.65,"v":270000},{"t":9.72,"v":220000},{"t":9.80,"v":210000},{"t":9.87,"v":170000},{"t":9.94,"v":190000},{"t":10.01,"v":160000},{"t":10.08,"v":144000},{"t":10.15,"v":160000},{"t":10.22,"v":173000},{"t":10.30,"v":130000},{"t":10.37,"v":144000},{"t":10.44,"v":170000},{"t":10.51,"v":158000},{"t":10.58,"v":175000},{"t":10.65,"v":190000},{"t":10.72,"v":150000},{"t":10.79,"v":210000},{"t":10.86,"v":180000},{"t":10.94,"v":173000},{"t":11.01,"v":200000},{"t":11.08,"v":230000},{"t":11.15,"v":250000},{"t":11.22,"v":270000},{"t":11.29,"v":300000},{"t":11.36,"v":360000},{"t":11.43,"v":400000},{"t":11.50,"v":270000},{"t":11.57,"v":173000},{"t":11.62,"v":190000},{"t":11.65,"v":144000},{"t":11.69,"v":44000},{"t":11.72,"v":160000},{"t":11.76,"v":190000},{"t":11.86,"v":170000},{"t":11.93,"v":210000},{"t":12.00,"v":160000},{"t":12.07,"v":173000},{"t":12.15,"v":210000},{"t":12.22,"v":190000},{"t":12.29,"v":160000},{"t":12.36,"v":230000},{"t":12.43,"v":100000},{"t":12.50,"v":190000},{"t":12.57,"v":150000},{"t":12.64,"v":173000},{"t":12.71,"v":140000},{"t":12.79,"v":230000},{"t":12.86,"v":160000},{"t":12.93,"v":144000},{"t":13.00,"v":190000},{"t":13.07,"v":173000},{"t":13.14,"v":120000},{"t":13.21,"v":132000},{"t":13.28,"v":170000},{"t":13.35,"v":190000},{"t":13.42,"v":120000},{"t":13.50,"v":144000},{"t":13.57,"v":125000},{"t":13.64,"v":110000},{"t":13.71,"v":150000},{"t":13.78,"v":132000},{"t":13.85,"v":110000},{"t":13.92,"v":120000},{"t":14.00,"v":100000},{"t":14.07,"v":110000},{"t":14.14,"v":125000},{"t":14.21,"v":91000},{"t":14.28,"v":120000},{"t":14.35,"v":144000},{"t":14.42,"v":100000},{"t":14.49,"v":110000},{"t":14.56,"v":130000},{"t":14.64,"v":91000},{"t":14.71,"v":120000},{"t":14.78,"v":132000},{"t":14.85,"v":95000},{"t":14.92,"v":100000},{"t":14.99,"v":130000},{"t":15.06,"v":120000},{"t":15.13,"v":48000},{"t":15.20,"v":144000},{"t":15.27,"v":110000},{"t":15.35,"v":120000},{"t":15.45,"v":115000},{"t":15.56,"v":132000},{"t":15.66,"v":128000},{"t":15.77,"v":125000},{"t":15.89,"v":112000},{"t":15.96,"v":100000},{"t":16.03,"v":93000},{"t":16.10,"v":98000},{"t":16.17,"v":102000},{"t":16.24,"v":90000},{"t":16.32,"v":85000},{"t":16.39,"v":80000},{"t":16.46,"v":77000},{"t":16.53,"v":95000},{"t":16.60,"v":112000},{"t":16.67,"v":148000},{"t":16.74,"v":102000},{"t":16.81,"v":95000},{"t":16.89,"v":93000},{"t":16.96,"v":100000},{"t":17.03,"v":102000},{"t":17.10,"v":95000},{"t":17.17,"v":85000},{"t":17.24,"v":95000},{"t":17.31,"v":102000},{"t":17.38,"v":98000},{"t":17.46,"v":93000},{"t":17.55,"v":98000},{"t":17.67,"v":102000},{"t":17.9,"v":null},{"t":18.31,"v":115000},{"t":18.38,"v":108000},{"t":18.45,"v":112000},{"t":18.52,"v":95000},{"t":18.59,"v":70000},{"t":18.66,"v":93000},{"t":18.74,"v":102000},{"t":18.81,"v":95000},{"t":18.88,"v":77000},{"t":18.95,"v":58000},{"t":19.02,"v":135000},{"t":19.09,"v":110000},{"t":19.16,"v":160000},{"t":19.23,"v":120000},{"t":19.31,"v":195000},{"t":19.38,"v":210000},{"t":19.45,"v":112000},{"t":19.52,"v":100000},{"t":19.59,"v":77000},{"t":19.66,"v":110000},{"t":19.73,"v":135000},{"t":19.80,"v":100000},{"t":19.88,"v":85000},{"t":19.95,"v":100000},{"t":20.02,"v":112000},{"t":20.09,"v":90000},{"t":20.16,"v":102000},{"t":20.23,"v":85000},{"t":20.30,"v":77000},{"t":20.37,"v":70000},{"t":20.44,"v":58000},{"t":20.51,"v":80000},{"t":20.59,"v":93000},{"t":20.66,"v":80000},{"t":20.73,"v":70000},{"t":20.80,"v":85000},{"t":20.87,"v":77000},{"t":20.94,"v":100000},{"t":21.01,"v":148000},{"t":21.08,"v":100000},{"t":21.16,"v":93000},{"t":21.23,"v":80000},{"t":21.30,"v":85000},{"t":21.37,"v":95000},{"t":21.44,"v":77000},{"t":21.51,"v":85000},{"t":21.58,"v":93000},{"t":21.65,"v":80000},{"t":21.73,"v":64000},{"t":21.80,"v":90000},{"t":21.87,"v":102000},{"t":21.94,"v":95000},{"t":22.01,"v":112000},{"t":22.08,"v":100000},{"t":22.15,"v":93000},{"t":22.22,"v":105000},{"t":22.29,"v":98000},{"t":22.37,"v":108000},{"t":22.44,"v":112000},{"t":22.51,"v":100000},{"t":22.58,"v":95000},{"t":22.65,"v":102000},{"t":22.72,"v":93000},{"t":22.79,"v":90000},{"t":22.86,"v":100000},{"t":22.93,"v":95000},{"t":23.01,"v":102000},{"t":23.08,"v":98000},{"t":23.15,"v":93000},{"t":23.22,"v":100000},{"t":23.29,"v":93000},{"t":23.36,"v":98000},{"t":23.43,"v":102000},{"t":23.50,"v":95000},{"t":23.58,"v":85000},{"t":23.65,"v":70000},{"t":23.72,"v":53000},{"t":23.79,"v":44000},{"t":23.86,"v":49000},{"t":23.93,"v":58000},{"t":24.00,"v":64000},{"t":24.04,"v":80000},{"t":24.07,"v":102000},{"t":24.10,"v":70000},{"t":24.14,"v":58000},{"t":24.21,"v":53000},{"t":24.29,"v":49000},{"t":24.36,"v":55000},{"t":24.43,"v":53000},{"t":24.50,"v":48000},{"t":24.57,"v":52000},{"t":24.64,"v":46000},{"t":24.71,"v":49000},{"t":24.78,"v":44000},{"t":24.86,"v":46000},{"t":24.93,"v":42000},{"t":25.00,"v":45000},{"t":25.07,"v":40000},{"t":25.14,"v":44000},{"t":25.21,"v":41000},{"t":25.28,"v":40000},{"t":25.36,"v":37000},{"t":25.43,"v":33000},{"t":25.50,"v":38000},{"t":25.57,"v":40000},{"t":25.64,"v":36000},{"t":25.71,"v":39000},{"t":25.78,"v":42000},{"t":25.85,"v":37000},{"t":25.93,"v":41000},{"t":26.00,"v":44000},{"t":26.07,"v":38000},{"t":26.14,"v":40000},{"t":26.21,"v":36000},{"t":26.28,"v":33000},{"t":26.35,"v":40000},{"t":26.42,"v":44000},{"t":26.49,"v":40000},{"t":26.56,"v":37000},{"t":26.63,"v":45000},{"t":26.71,"v":58000},{"t":26.78,"v":48000},{"t":26.85,"v":44000},{"t":26.92,"v":28000},{"t":26.99,"v":53000},{"t":27.06,"v":93000},{"t":27.13,"v":123000},{"t":27.20,"v":112000},{"t":27.28,"v":135000},{"t":27.35,"v":100000},{"t":27.42,"v":112000},{"t":27.49,"v":95000},{"t":27.56,"v":102000},{"t":27.63,"v":90000},{"t":27.70,"v":77000},{"t":27.77,"v":100000},{"t":27.85,"v":112000},{"t":27.92,"v":95000},{"t":27.99,"v":102000},{"t":28.06,"v":110000},{"t":28.13,"v":123000},{"t":28.20,"v":93000},{"t":28.27,"v":85000},{"t":28.33,"v":75000},{"t":28.39,"v":70000}
    ]
  },
  "spacing": 10,
  "bounds": "flush",
  "vconcat": [
    {
      "width": 562, "height": 84,
      "title": {"text": "2026 /\u00a0 5 / 19\u00a0\u00a0 05:00 --\u00a0 5 / 20\u00a0\u00a0 05:00 ( ACE )", "anchor": "middle", "offset": -1},
      "layer": [
        {"data": {"values": [{"t": 5, "v": 0}, {"t": 29, "v": 0}]},
         "mark": {"type": "line", "color": "#808080", "strokeWidth": 2},
         "encoding": {
           "x": {"field": "t", "type": "quantitative", "scale": {"domain": [5, 29], "nice": false, "zero": false}, "axis": {"orient": "top", "values": [6,8,10,12,14,16,18,20,22,24,26,28], "labels": false, "title": null}},
           "y": {"field": "v", "type": "quantitative", "scale": {"domain": [-10, 10], "nice": false, "zero": false}, "axis": {"orient": "right", "values": [-5, 0, 5], "labels": false, "title": null}}
         }},
        {"data": {"name": "bt"},
         "mark": {"type": "line", "color": "black", "strokeWidth": 1, "clip": true, "invalid": "break-paths-filter-domains"},
         "encoding": {
           "x": {"field": "t", "type": "quantitative", "axis": {"orient": "bottom", "values": [6,8,10,12,14,16,18,20,22,24,26,28], "labels": false, "title": null}},
           "y": {"field": "v", "type": "quantitative", "axis": {"orient": "left", "values": [-10, -5, 0, 5, 10], "title": "Bt,Bz", "titleX": -33}}
         }},
        {"data": {"name": "bz"},
         "mark": {"type": "line", "color": "#ff0000", "strokeWidth": 1, "clip": true, "invalid": "break-paths-filter-domains"},
         "encoding": {
           "x": {"field": "t", "type": "quantitative", "axis": null},
           "y": {"field": "v", "type": "quantitative", "axis": null}
         }}
      ],
      "resolve": {"axis": {"x": "independent", "y": "independent"}}
    },
    {
      "width": 562, "height": 84,
      "layer": [
        {"data": {"name": "phi"},
         "mark": {"type": "square", "size": 6, "filled": true, "opacity": 1, "clip": true},
         "encoding": {
           "x": {"field": "t", "type": "quantitative", "scale": {"domain": [5, 29], "nice": false, "zero": false}, "axis": {"orient": "bottom", "values": [6,8,10,12,14,16,18,20,22,24,26,28], "labels": false, "title": null}},
           "y": {"field": "v", "type": "quantitative", "scale": {"domain": [45, 405], "nice": false, "zero": false}, "axis": {"orient": "left", "values": [45, 135, 225, 315, 405], "title": ["T", "Phi", "A"], "titleLineHeight": 22, "titleX": -39, "titleY": 21}},
           "color": {"field": "c", "type": "nominal", "scale": {"domain": ["b", "g", "m"], "range": ["#87cefa", "#c4c4c4", "#f27ef2"]}, "legend": null}
         }},
        {"data": {"values": [{"t": 5, "v": 225}, {"t": 29, "v": 225}]},
         "mark": {"type": "line", "color": "#b47a7a", "strokeWidth": 2, "strokeDash": [8, 5]},
         "encoding": {
           "x": {"field": "t", "type": "quantitative", "axis": {"orient": "top", "values": [6,8,10,12,14,16,18,20,22,24,26,28], "labels": false, "title": null}},
           "y": {"field": "v", "type": "quantitative", "axis": {"orient": "right", "values": [135, 225, 315], "labels": false, "title": null}}
         }}
      ],
      "resolve": {"axis": {"x": "independent", "y": "independent"}}
    },
    {
      "width": 562, "height": 84,
      "layer": [
        {"data": {"name": "n"},
         "mark": {"type": "line", "color": "#ff00ff", "strokeWidth": 1, "clip": true, "invalid": "break-paths-filter-domains"},
         "encoding": {
           "x": {"field": "t", "type": "quantitative", "scale": {"domain": [5, 29], "nice": false, "zero": false}, "axis": {"orient": "bottom", "values": [6,8,10,12,14,16,18,20,22,24,26,28], "labels": false, "title": null}},
           "y": {"field": "v", "type": "quantitative", "scale": {"type": "log", "domain": [0.1, 10], "nice": false}, "axis": {"orient": "left", "values": [0.1,0.2,0.3,0.4,0.5,0.6,0.7,0.8,0.9,1,2,3,4,5,6,7,8,9,10], "labelExpr": "datum.value == 0.1 ? '0.1' : datum.value == 1 ? '1' : datum.value == 10 ? '10' : ''", "title": "N", "titleX": -42}}
         }},
        {"data": {"values": [{"t": 5, "v": 1}, {"t": 29, "v": 1}]},
         "mark": {"type": "line", "color": "#7a0000", "strokeWidth": 1.2, "strokeDash": [7, 4]},
         "encoding": {
           "x": {"field": "t", "type": "quantitative", "axis": {"orient": "top", "values": [6,8,10,12,14,16,18,20,22,24,26,28], "labels": false, "title": null}},
           "y": {"field": "v", "type": "quantitative", "axis": {"orient": "right", "values": [1], "labels": false, "title": null}}
         }}
      ],
      "resolve": {"axis": {"x": "independent", "y": "independent"}}
    },
    {
      "width": 562, "height": 84,
      "layer": [
        {"data": {"name": "vel"},
         "mark": {"type": "line", "color": "#0000ff", "strokeWidth": 1, "clip": true, "invalid": "break-paths-filter-domains"},
         "encoding": {
           "x": {"field": "t", "type": "quantitative", "scale": {"domain": [5, 29], "nice": false, "zero": false}, "axis": {"orient": "bottom", "values": [6,8,10,12,14,16,18,20,22,24,26,28], "labels": false, "title": null}},
           "y": {"field": "v", "type": "quantitative", "scale": {"domain": [400, 700], "nice": false, "zero": false}, "axis": {"orient": "left", "values": [400, 500, 600, 700], "title": "V", "titleX": -43}}
         }},
        {"data": {"values": [{"t": 5, "v": 500}, {"t": 29, "v": 500}]},
         "mark": {"type": "line", "opacity": 0},
         "encoding": {
           "x": {"field": "t", "type": "quantitative", "axis": {"orient": "top", "values": [6,8,10,12,14,16,18,20,22,24,26,28], "labels": false, "title": null}},
           "y": {"field": "v", "type": "quantitative", "axis": {"orient": "right", "values": [500, 600], "labels": false, "title": null}}
         }}
      ],
      "resolve": {"axis": {"x": "independent", "y": "independent"}}
    },
    {
      "width": 562, "height": 84,
      "layer": [
        {"data": {"name": "tp"},
         "mark": {"type": "line", "color": "#00ff00", "strokeWidth": 1, "clip": true, "invalid": "break-paths-filter-domains"},
         "encoding": {
           "x": {"field": "t", "type": "quantitative", "scale": {"domain": [5, 29], "nice": false, "zero": false}, "axis": {"orient": "bottom", "values": [6,8,10,12,14,16,18,20,22,24,26,28], "labelExpr": "datum.value % 24", "title": "UT", "titlePadding": 4}},
           "y": {"field": "v", "type": "quantitative", "scale": {"type": "log", "domain": [10000, 1000000], "nice": false}, "axis": {"orient": "left", "values": [10000,20000,30000,40000,50000,60000,70000,80000,90000,100000,200000,300000,400000,500000,600000,700000,800000,900000,1000000], "labelExpr": "datum.value == 10000 ? '1e+4' : datum.value == 100000 ? '1e+5' : datum.value == 1000000 ? '1e+6' : ''", "title": "T", "titleX": -43}}
         }},
        {"data": {"values": [{"t": 5, "v": 100000}, {"t": 29, "v": 100000}]},
         "mark": {"type": "line", "color": "#b47a7a", "strokeWidth": 2, "strokeDash": [8, 5]},
         "encoding": {
           "x": {"field": "t", "type": "quantitative", "axis": {"orient": "top", "values": [6,8,10,12,14,16,18,20,22,24,26,28], "labels": false, "title": null}},
           "y": {"field": "v", "type": "quantitative", "axis": {"orient": "right", "values": [100000], "labels": false, "title": null}}
         }}
      ],
      "resolve": {"axis": {"x": "independent", "y": "independent"}}
    }
  ]
}
